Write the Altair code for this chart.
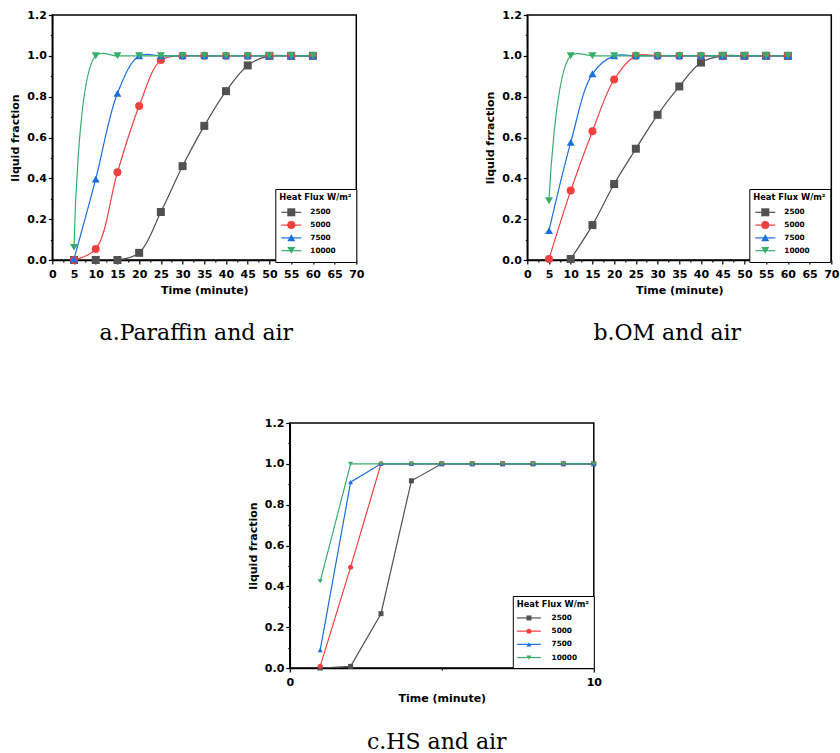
import altair as alt
import pandas as pd

SERIES = ["2500", "5000", "7500", "10000"]
COLORS = ["#515151", "#F14040", "#1A6FDF", "#37AD6B"]
SHAPES = ["square", "circle", "triangle-up", "triangle-down"]

# panels a and b: time in minutes
T_AB = [5, 10, 15, 20, 25, 30, 35, 40, 45, 50, 55, 60]
A_2500 = [0.0, 0.0, 0.0, 0.035, 0.235, 0.46, 0.657, 0.827, 0.953, 1.0, 1.0, 1.0]
A_5000 = [0.0, 0.054, 0.43, 0.754, 0.979, 1.0, 1.0, 1.0, 1.0, 1.0, 1.0, 1.0]
A_7500 = [0.005, 0.396, 0.816, 1.0, 1.0, 1.0, 1.0, 1.0, 1.0, 1.0, 1.0, 1.0]
A_10000 = [0.062, 1.0, 1.0, 1.0, 1.0, 1.0, 1.0, 1.0, 1.0, 1.0, 1.0, 1.0]

B_2500 = [None, 0.005, 0.171, 0.372, 0.545, 0.711, 0.85, 0.967, 1.0, 1.0, 1.0, 1.0]
B_5000 = [0.005, 0.34, 0.631, 0.884, 1.0, 1.0, 1.0, 1.0, 1.0, 1.0, 1.0, 1.0]
B_7500 = [0.144, 0.576, 0.912, 1.0, 1.0, 1.0, 1.0, 1.0, 1.0, 1.0, 1.0, 1.0]
B_10000 = [0.29, 1.0, 1.0, 1.0, 1.0, 1.0, 1.0, 1.0, 1.0, 1.0, 1.0, 1.0]

# panel c
T_C = [1, 2, 3, 4, 5, 6, 7, 8, 9, 10]
C_2500 = [0.0, 0.008, 0.266, 0.917, 1.0, 1.0, 1.0, 1.0, 1.0, 1.0]
C_5000 = [0.008, 0.494, 1.0, 1.0, 1.0, 1.0, 1.0, 1.0, 1.0, 1.0]
C_7500 = [0.088, 0.91, 1.0, 1.0, 1.0, 1.0, 1.0, 1.0, 1.0, 1.0]
C_10000 = [0.424, 1.0, 1.0, 1.0, 1.0, 1.0, 1.0, 1.0, 1.0, 1.0]

X_TICKS_AB = [0, 5, 10, 15, 20, 25, 30, 35, 40, 45, 50, 55, 60, 65, 70]
X_MINOR_AB = [2.5, 7.5, 12.5, 17.5, 22.5, 27.5, 32.5, 37.5, 42.5, 47.5, 52.5, 57.5, 62.5, 67.5]
X_TICKS_C = [0, 10]
X_MINOR_C = [5]
Y_TICKS = [0.0, 0.2, 0.4, 0.6, 0.8, 1.0, 1.2]
Y_MINOR = [0.1, 0.3, 0.5, 0.7, 0.9, 1.1]

CAPTIONS = ["a.Paraffin and air", "b.OM and air", "c.HS and air"]
YTITLES = ["liquid fraction", "liquid frraction", "liquid fraction"]
LEGEND_TITLE = "Heat Flux W/m\u00b2"

TITLE_FS = 8.3
TITLE_PAD = 6
SPACER_FS = 12


def frame(times, cols):
    rows = []
    for s, vals in zip(SERIES, cols):
        for t, v in zip(times, vals):
            if v is not None:
                rows.append({"t": t, "f": v, "s": s})
    return pd.DataFrame(rows)


def legends(lx, ly, ss, so, lo, rp, s_a, pitch, path):
    common = dict(orient="none", legendX=lx, padding=4, symbolSize=ss,
                  symbolStrokeWidth=1.2, labelFont="DejaVu Sans",
                  labelFontWeight="bold", labelColor="black")
    # legend with the line strokes, title, labels and frame
    leg_a = alt.Legend(**common, legendY=ly, rowPadding=rp, symbolType=path,
                       symbolOffset=so, labelOffset=lo, labelFontSize=7.3,
                       fillColor="white", strokeColor="black", zindex=1,
                       title=LEGEND_TITLE, titleFont="DejaVu Sans",
                       titleFontSize=TITLE_FS, titleFontWeight="bold",
                       titleColor="black", titlePadding=TITLE_PAD,
                       titleAnchor="start")
    # legend with the markers only, laid over the first one; blank labels
    # of a fixed size keep every row the same height
    shift = (SPACER_FS - s_a) / 2
    leg_b = alt.Legend(**common,
                       legendY=ly + TITLE_FS + TITLE_PAD - shift,
                       rowPadding=pitch - SPACER_FS,
                       symbolOffset=so - shift, labelOffset=0,
                       labelFontSize=SPACER_FS, zindex=2, title=None,
                       labelExpr="' '")
    return leg_a, leg_b


def panel(df, xmax, xticks, xminor, ytitle, caption, cap_dx, cap_off, interp,
          msize, leg):
    leg_a, leg_b = leg
    xs = alt.Scale(domain=[0, xmax], nice=False, zero=False)
    ys = alt.Scale(domain=[0, 1.2], nice=False, zero=False)
    base = alt.Chart(df)
    lines = base.mark_line(interpolate=interp, strokeWidth=1.2, clip=True).encode(
        x=alt.X("t:Q", scale=xs,
                axis=alt.Axis(values=xticks, format="d", title="Time (minute)",
                              orient="bottom", labelPadding=4, titlePadding=5)),
        y=alt.Y("f:Q", scale=ys,
                axis=alt.Axis(values=Y_TICKS, format=".1f", title=ytitle,
                              orient="left", labelPadding=2, titlePadding=6)),
        stroke=alt.Stroke("s:N", sort=SERIES, scale=alt.Scale(range=COLORS),
                          legend=leg_a),
    )
    points = base.mark_point(filled=True, size=msize, opacity=1).encode(
        x=alt.X("t:Q", scale=xs, axis=None),
        y=alt.Y("f:Q", scale=ys, axis=None),
        color=alt.Color("s:N", scale=alt.Scale(domain=SERIES, range=COLORS),
                        legend=leg_b),
        shape=alt.Shape("s:N", scale=alt.Scale(domain=SERIES, range=SHAPES),
                        legend=leg_b),
    )
    minor = base.mark_point(opacity=0).encode(
        x=alt.X("t:Q", scale=xs,
                axis=alt.Axis(values=xminor, labels=False, tickSize=2,
                              domain=False, title=None, orient="bottom")),
        y=alt.Y("f:Q", scale=ys,
                axis=alt.Axis(values=Y_MINOR, labels=False, tickSize=2,
                              domain=False, title=None, orient="left")),
    )
    return alt.layer(lines, points, minor).resolve_axis(
        x="independent", y="independent"
    ).properties(
        width=304, height=245,
        title=alt.TitleParams(caption, orient="bottom", anchor="middle",
                              frame="group", font="DejaVu Serif", fontSize=22,
                              fontWeight="normal", color="black",
                              offset=cap_off, dx=cap_dx),
    )


df_a = frame(T_AB, [A_2500, A_5000, A_7500, A_10000])
df_b = frame(T_AB, [B_2500, B_5000, B_7500, B_10000])
df_c = frame(T_C, [C_2500, C_5000, C_7500, C_10000])

PATH_AB = "M0,-1M0,1M-2.5,0H2.5"
PATH_C = "M0,-1.4M0,1.4M-4.8,0H4.8"

pa = panel(df_a, 70, X_TICKS_AB, X_MINOR_AB, YTITLES[0], CAPTIONS[0], -8, 28,
           "catmull-rom", 64,
           legends(223, 174, 64, 7, 14, -1.2, 10, 12.7, PATH_AB))
pb = panel(df_b, 70, X_TICKS_AB, X_MINOR_AB, YTITLES[1], CAPTIONS[1], -12, 28,
           "catmull-rom", 64,
           legends(222, 174, 64, 7, 14, -1.2, 10, 12.7, PATH_AB))
pc = panel(df_c, 10, X_TICKS_C, X_MINOR_C, YTITLES[2], CAPTIONS[2], -5, 29,
           "linear", 25,
           legends(223, 173, 25, 8.5, 19, 0.2, 7.3, 13.2, PATH_C))

top = alt.hconcat(pa, pb, spacing=118).resolve_scale(
    color="independent", shape="independent", stroke="independent"
).resolve_legend(color="independent", shape="independent", stroke="independent")

chart = alt.vconcat(top, pc, spacing=71, center=True).resolve_scale(
    color="independent", shape="independent", stroke="independent"
).resolve_legend(
    color="independent", shape="independent", stroke="independent"
).properties(
    padding={"left": 9, "top": 8, "right": 0, "bottom": 0},
    background="white",
).configure_view(
    stroke="black", strokeWidth=1.5
).configure_axis(
    labelFont="DejaVu Sans", labelFontWeight="bold", labelFontSize=11,
    labelColor="black", titleFont="DejaVu Sans", titleFontWeight="bold",
    titleFontSize=11, titleColor="black", tickColor="black", tickWidth=1.2,
    tickSize=4, domainColor="black", domainWidth=1.5, grid=False,
    labelOverlap=False, labelFlush=False,
)

chart.save("out.html", embed_options={"renderer": "svg", "actions": False})
